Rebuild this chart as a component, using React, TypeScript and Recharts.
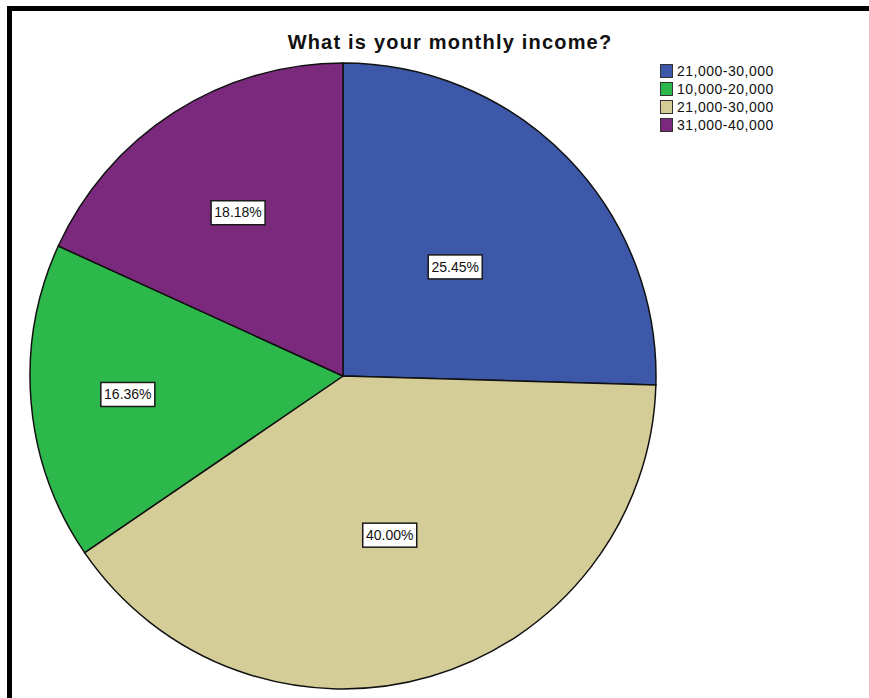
import { Cell, Legend, Pie, PieChart } from "recharts";

// legend order
const CATEGORIES = ["21,000-30,000", "10,000-20,000", "21,000-30,000", "31,000-40,000"];
const PERCENTS = [25.45, 16.36, 40.0, 18.18];
const COLORS = ["#3d58a9", "#2db84b", "#d4cd98", "#7b297d"];
// clockwise from 12 o'clock: blue, tan, green, purple
const SLICE_ORDER = [0, 2, 1, 3];
const LABEL_RADIUS = [0.5, 0.69, 0.53, 0.62];

const FONT = '"Liberation Sans", Arial, sans-serif';
const RADIAN = Math.PI / 180;

const sliceData = SLICE_ORDER.map((i) => ({
  name: CATEGORIES[i],
  value: PERCENTS[i],
  color: COLORS[i],
  idx: i,
}));

const renderLabel = (props: any) => {
  const { cx, cy, midAngle, outerRadius, payload } = props;
  const r = outerRadius * LABEL_RADIUS[payload.idx];
  const x = cx + r * Math.cos(-midAngle * RADIAN);
  const y = cy + r * Math.sin(-midAngle * RADIAN);
  const text = `${payload.value.toFixed(2)}%`;
  return (
    <g>
      <rect
        x={x - 27}
        y={y - 12}
        width={54}
        height={24}
        fill="#ffffff"
        stroke="#1a1a1a"
        strokeWidth={1.5}
      />
      <text
        x={x}
        y={y + 1}
        textAnchor="middle"
        dominantBaseline="middle"
        fontFamily={FONT}
        fontSize={14}
        fill="#111"
      >
        {text}
      </text>
    </g>
  );
};

const renderLegend = () => (
  <div style={{ fontFamily: FONT, fontSize: 14, color: "#111", letterSpacing: 0.5 }}>
    {CATEGORIES.map((name, i) => (
      <div key={i} style={{ display: "flex", alignItems: "center", height: 18 }}>
        <span
          style={{
            display: "inline-block",
            width: 11,
            height: 12,
            background: COLORS[i],
            border: "1px solid #333",
            marginRight: 4,
          }}
        />
        {name}
      </div>
    ))}
  </div>
);

export default function App() {
  return (
    <div
      style={{
        position: "fixed",
        left: 0,
        top: 0,
        width: 869,
        height: 698,
        background: "#fff",
        overflow: "hidden",
      }}
    >
      <div
        style={{
          position: "absolute",
          left: 7,
          top: 6,
          width: 862,
          height: 700,
          borderTop: "5px solid #000",
          borderLeft: "5px solid #000",
          boxSizing: "border-box",
        }}
      />
      <div
        style={{
          position: "absolute",
          left: 0,
          width: 900,
          top: 31,
          textAlign: "center",
          fontFamily: FONT,
          fontWeight: "bold",
          fontSize: 20,
          letterSpacing: 1.2,
          color: "#111",
        }}
      >
        What is your monthly income?
      </div>
      <PieChart
        width={869}
        height={698}
        margin={{ top: 0, right: 0, bottom: 0, left: 0 }}
        style={{ position: "absolute", left: 0, top: 0 }}
      >
        <Pie
          data={sliceData}
          dataKey="value"
          nameKey="name"
          cx={343}
          cy={376}
          outerRadius={313}
          startAngle={90}
          endAngle={-270}
          stroke="#111"
          strokeWidth={1.5}
          label={renderLabel}
          labelLine={false}
          isAnimationActive={false}
        >
          {sliceData.map((d, i) => (
            <Cell key={i} fill={d.color} />
          ))}
        </Pie>
        <Legend
          content={renderLegend}
          wrapperStyle={{ position: "absolute", left: 660, top: 62, width: 150 }}
        />
      </PieChart>
    </div>
  );
}
